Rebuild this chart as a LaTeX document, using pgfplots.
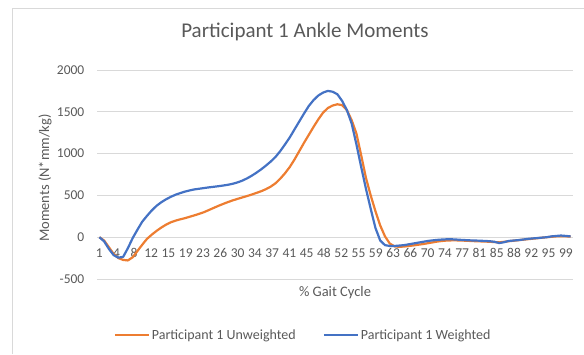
\documentclass[border=0pt]{standalone}
\usepackage{fontspec}
\setmainfont{Carlito}
\usepackage{pgfplots}
\pgfplotsset{compat=1.18}
\definecolor{txt}{HTML}{595959}
\definecolor{grid}{HTML}{D9D9D9}
\definecolor{xlorange}{HTML}{ED7D31}
\definecolor{xlblue}{HTML}{4472C4}
\begin{document}
\begin{tikzpicture}[x=1pt,y=1pt]
\path[use as bounding box] (0,0) rectangle (584,354);
\draw[grid, line width=0.8pt] (12,0) -- (12,346) -- (584,346);
\begin{axis}[
  at={(97pt,75pt)}, anchor=south west,
  scale only axis, width=476pt, height=209pt,
  xmin=0.5, xmax=100.5, ymin=-500, ymax=2000,
  axis x line=middle, axis y line=left,
  x axis line style={draw=grid, line width=0.8pt, -},
  y axis line style={draw=none},
  tick style={draw=none},
  ytick={-500,0,500,1000,1500,2000},
  xtick={1,4.630,8.259,11.889,15.519,19.148,22.778,26.407,30.037,33.667,37.296,40.926,44.556,48.185,51.815,55.444,59.074,62.704,66.333,69.963,73.593,77.222,80.852,84.481,88.111,91.741,95.370,99},
  xticklabels={1,4,8,12,15,19,23,26,30,34,37,41,45,48,52,55,59,63,66,70,74,77,81,85,88,92,95,99},
  ymajorgrids, major grid style={draw=grid, line width=0.8pt},
  /pgf/number format/assume math mode=true,
  /pgf/number format/1000 sep={},
  ticklabel style={font=\fontsize{13.5}{15}\selectfont, text=txt},
  xticklabel style={yshift=-8pt, inner sep=1pt},
  yticklabel style={xshift=-7pt},
  title={Participant 1 Ankle Moments},
  title style={at={(axis description cs:0.437,1.153)}, anchor=center, font=\fontsize{21}{24}\selectfont, text=txt},
  xlabel={\% Gait Cycle},
  xlabel style={at={(axis description cs:0.5,-0.067)}, anchor=center, font=\fontsize{14.5}{17}\selectfont, text=txt},
  ylabel={Moments (N*mm/kg)},
  ylabel style={at={(axis description cs:-0.109,0.483)}, anchor=center, font=\fontsize{14.5}{17}\selectfont, text=txt},
  legend style={at={(axis description cs:0.433,-0.268)}, anchor=center, draw=none, fill=none,
    font=\fontsize{14}{16}\selectfont, text=txt, legend columns=2,
    /tikz/every even column/.append style={column sep=25pt}},
  legend image code/.code={\draw[#1, line width=2.2pt] (0pt,0pt) -- (34pt,0pt);},
  clip=false,
]
\addplot[xlorange, line width=2.2pt, line join=round] coordinates {
(1,0)(2,-40)(3,-120)(4,-200)(5,-250)(6,-272)(7,-278)(8,-240)(9,-165)(10,-90)
(11,-20)(12,30)(13,75)(14,115)(15,150)(16,178)(17,198)(18,214)(19,228)(20,245)
(21,262)(22,280)(23,300)(24,325)(25,350)(26,375)(27,398)(28,420)(29,440)(30,458)
(31,475)(32,492)(33,510)(34,530)(35,550)(36,575)(37,605)(38,645)(39,700)(40,765)
(41,840)(42,930)(43,1030)(44,1130)(45,1225)(46,1320)(47,1410)(48,1490)(49,1545)(50,1575)
(51,1590)(52,1580)(53,1520)(54,1400)(55,1240)(56,980)(57,710)(58,500)(59,310)(60,140)
(61,10)(62,-75)(63,-110)(64,-115)(65,-112)(66,-105)(67,-98)(68,-90)(69,-82)(70,-72)
(71,-62)(72,-52)(73,-45)(74,-40)(75,-38)(76,-38)(77,-40)(78,-42)(79,-45)(80,-48)
(81,-50)(82,-52)(83,-55)(84,-58)(85,-62)(86,-55)(87,-48)(88,-42)(89,-36)(90,-30)
(91,-24)(92,-18)(93,-12)(94,-6)(95,0)(96,5)(97,10)(98,12)(99,10)(100,8)
};
\addlegendentry{Participant 1 Unweighted}
\addplot[xlblue, line width=2.2pt, line join=round] coordinates {
(1,0)(2,-50)(3,-140)(4,-215)(5,-245)(6,-235)(7,-130)(8,-10)(9,90)(10,185)
(11,255)(12,320)(13,375)(14,418)(15,453)(16,483)(17,508)(18,528)(19,546)(20,560)
(21,572)(22,580)(23,588)(24,596)(25,603)(26,610)(27,618)(28,627)(29,639)(30,655)
(31,676)(32,703)(33,735)(34,772)(35,812)(36,857)(37,905)(38,960)(39,1030)(40,1110)
(41,1194)(42,1290)(43,1385)(44,1480)(45,1570)(46,1640)(47,1695)(48,1730)(49,1750)(50,1740)
(51,1710)(52,1630)(53,1520)(54,1360)(55,1110)(56,840)(57,580)(58,340)(59,110)(60,-40)
(61,-95)(62,-105)(63,-105)(64,-100)(65,-95)(66,-85)(67,-75)(68,-65)(69,-55)(70,-45)
(71,-38)(72,-32)(73,-28)(74,-25)(75,-25)(76,-28)(77,-32)(78,-35)(79,-38)(80,-40)
(81,-42)(82,-45)(83,-48)(84,-55)(85,-70)(86,-60)(87,-45)(88,-40)(89,-35)(90,-28)
(91,-20)(92,-15)(93,-10)(94,-5)(95,0)(96,10)(97,15)(98,20)(99,15)(100,10)
};
\addlegendentry{Participant 1 Weighted}
\end{axis}
\end{tikzpicture}
\end{document}
